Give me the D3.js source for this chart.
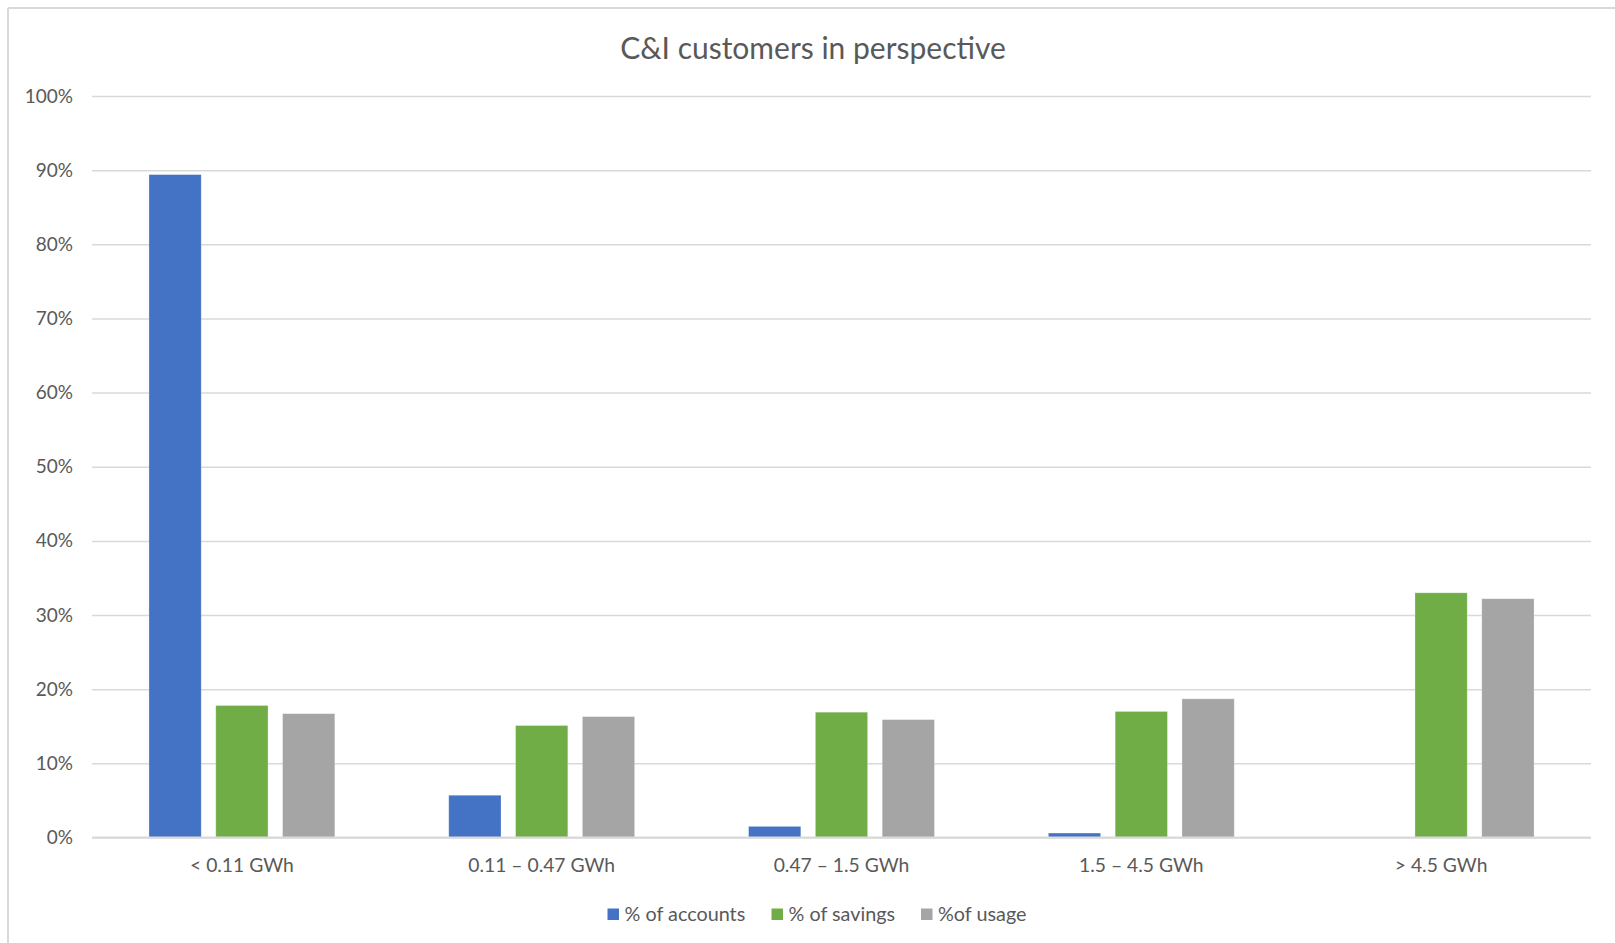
<!DOCTYPE html>
<html>
<head>
<meta charset="utf-8">
<script src="https://cdn.jsdelivr.net/npm/d3@7"></script>
<style>
  html, body { margin: 0; padding: 0; background: #fff; }
  svg { display: block; }
  text { font-family: Lato, "Open Sans", sans-serif; fill: #595959; }
</style>
</head>
<body>
<svg id="chart" width="1615" height="943"></svg>
<script>
const title = "C&I customers in perspective";
const categories = ["< 0.11 GWh", "0.11 – 0.47 GWh", "0.47 – 1.5 GWh", "1.5 – 4.5 GWh", "> 4.5 GWh"];
const seriesNames = ["% of accounts", "% of savings", "%of usage"];
const accounts = [0.894, 0.057, 0.015, 0.006, 0];
const savings  = [0.178, 0.151, 0.169, 0.170, 0.330];
const usage    = [0.167, 0.163, 0.159, 0.187, 0.322];
const yTicks = [0, 0.1, 0.2, 0.3, 0.4, 0.5, 0.6, 0.7, 0.8, 0.9, 1.0];
const colors = ["#4472C4", "#70AD47", "#A5A5A5"];

const seriesValues = [accounts, savings, usage];
const rows = categories.map((c, i) => ({
  cat: c,
  vals: seriesNames.map((s, j) => ({ key: s, value: seriesValues[j][i], color: colors[j] }))
}));

const svg = d3.select("#chart");
const W = 1615, H = 943;
const plot = { left: 92, right: 1591, top: 96, bottom: 837.5 };

// chart border (left & top visible)
svg.append("line").attr("x1", 8).attr("y1", 8).attr("x2", 8).attr("y2", H)
  .attr("stroke", "#d9d9d9").attr("stroke-width", 2);
svg.append("line").attr("x1", 8).attr("y1", 8).attr("x2", W).attr("y2", 8)
  .attr("stroke", "#d9d9d9").attr("stroke-width", 2);

const x0 = d3.scaleBand().domain(categories).range([plot.left, plot.right])
  .paddingInner(0.38).paddingOuter(0.19);
const x1 = d3.scaleBand().domain(seriesNames).range([0, x0.bandwidth()]).paddingInner(0.218);
const y = d3.scaleLinear().domain([0, 1]).range([plot.bottom, plot.top]);

// gridlines
const yAxis = d3.axisLeft(y).tickValues(yTicks).tickFormat(d3.format(".0%"))
  .tickSize(-(plot.right - plot.left)).tickPadding(19);
const gy = svg.append("g").attr("transform", `translate(${plot.left},0)`).call(yAxis);
gy.select(".domain").remove();
gy.selectAll(".tick line").attr("stroke", "#d9d9d9").attr("stroke-width", 1.5);
gy.selectAll(".tick text").attr("font-size", 19).attr("fill", "#595959")
  .style("font-family", "Lato, sans-serif");

// bars
const groups = svg.append("g").selectAll("g").data(rows).join("g")
  .attr("transform", d => `translate(${x0(d.cat)},0)`);
groups.selectAll("rect").data(d => d.vals.filter(v => v.value > 0)).join("rect")
  .attr("x", d => x1(d.key))
  .attr("width", x1.bandwidth())
  .attr("y", d => y(d.value))
  .attr("height", d => y(0) - y(d.value))
  .attr("fill", d => d.color)
  .attr("stroke", "#ffffff").attr("stroke-opacity", 0.35).attr("stroke-width", 0.75);

// x axis
const xAxis = d3.axisBottom(x0).tickSize(0).tickPadding(21);
const gx = svg.append("g").attr("transform", `translate(0,${plot.bottom})`).call(xAxis);
gx.select(".domain").attr("stroke", "#d9d9d9").attr("stroke-width", 2)
  .attr("d", `M${plot.left},0H${plot.right}`);
gx.selectAll(".tick text").attr("font-size", 19.3).attr("fill", "#595959")
  .style("font-family", "Lato, sans-serif");

// title
svg.append("text").attr("x", 813).attr("y", 59).attr("text-anchor", "middle")
  .attr("font-size", 30).text(title);

// legend
const legendX = [607.5, 771.5, 921];
const lg = svg.append("g").selectAll("g").data(seriesNames).join("g")
  .attr("transform", (d, i) => `translate(${legendX[i]},908.5)`);
lg.append("rect").attr("width", 11.5).attr("height", 11.5).attr("fill", (d, i) => colors[i]);
lg.append("text").attr("x", 17).attr("y", 12.5).attr("font-size", 19.8).text(d => d);
</script>
</body>
</html>
